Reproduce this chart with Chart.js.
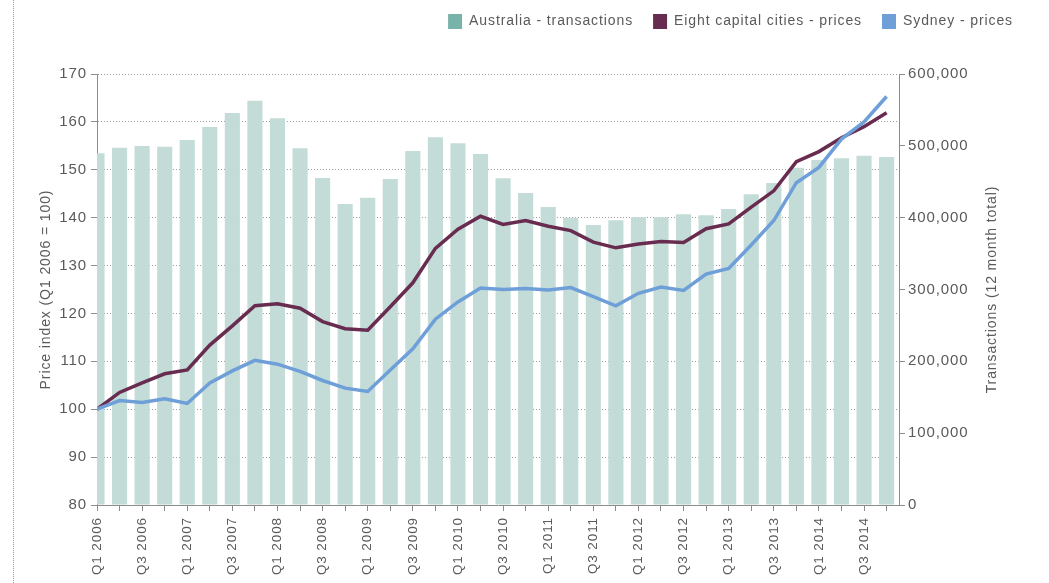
<!DOCTYPE html>
<html>
<head>
<meta charset="utf-8">
<script src="https://cdn.jsdelivr.net/npm/chart.js@4/dist/chart.umd.min.js"></script>
<style>
  html, body { margin: 0; padding: 0; background: #fff; }
  #wrap { position: relative; width: 1049px; height: 583px; }
  #edge { position: absolute; left: 13px; top: 0; bottom: 0; border-left: 1px dotted #9a9a9a; }
  canvas { position: absolute; left: 0; top: 0; }
</style>
</head>
<body>
<div id="wrap">
  <div id="edge"></div>
  <canvas id="chart" width="1049" height="583"></canvas>
</div>
<script>
  // Quarterly categories
  const quarters = [
    'Q1 2006', 'Q2 2006', 'Q3 2006', 'Q4 2006',
    'Q1 2007', 'Q2 2007', 'Q3 2007', 'Q4 2007',
    'Q1 2008', 'Q2 2008', 'Q3 2008', 'Q4 2008',
    'Q1 2009', 'Q2 2009', 'Q3 2009', 'Q4 2009',
    'Q1 2010', 'Q2 2010', 'Q3 2010', 'Q4 2010',
    'Q1 2011', 'Q2 2011', 'Q3 2011', 'Q4 2011',
    'Q1 2012', 'Q2 2012', 'Q3 2012', 'Q4 2012',
    'Q1 2013', 'Q2 2013', 'Q3 2013', 'Q4 2013',
    'Q1 2014', 'Q2 2014', 'Q3 2014', 'Q4 2014'
  ];

  // Australia - transactions (12 month total), right axis
  const transactions = [
    489600, 497400, 499800, 498800, 508100, 526200, 545700, 562900,
    538300, 496500, 455200, 419000, 427800, 453800, 492800, 511900,
    503500, 488600, 454800, 434300, 414800, 400000, 389800, 396300,
    400500, 400500, 404700, 403300, 412100, 432500, 448300, 469600,
    480300, 482600, 486300, 484500
  ];

  // Price index (Q1 2006 = 100), left axis
  const capitalPrices = [
    100, 103.5, 105.5, 107.4, 108.2, 113.4, 117.4, 121.6,
    122.0, 121.1, 118.3, 116.8, 116.5, 121.4, 126.4, 133.6,
    137.6, 140.3, 138.6, 139.4, 138.2, 137.3, 134.9, 133.7,
    134.5, 135.0, 134.8, 137.7, 138.7, 142.2, 145.6, 151.7,
    153.8, 156.7, 159.0, 161.9
  ];

  const sydneyPrices = [
    100, 101.8, 101.4, 102.2, 101.2, 105.5, 108.0, 110.2,
    109.4, 107.9, 106.0, 104.4, 103.7, 108.2, 112.6, 118.8,
    122.4, 125.3, 125.0, 125.2, 124.9, 125.4, 123.5, 121.6,
    124.2, 125.5, 124.8, 128.2, 129.4, 134.3, 139.4, 147.3,
    150.5, 156.4, 160.0, 165.3
  ];

  const priceTicks = { min: 80, max: 170, step: 10 };
  const volumeTicks = { min: 0, max: 600000, step: 100000 };

  const FONT = '"Liberation Sans", Arial, sans-serif';
  const TEXT = '#5a5a5a';
  const AXIS = '#8c8c8c';
  const legendColors = ['#78b3aa', '#672c4f', '#6f9fd8'];

  const asPoints = arr => arr.map((v, i) => ({ x: i, y: v }));

  // canvas letter spacing to mimic the tracked typeface
  const tracking = {
    id: 'tracking',
    beforeLayout(chart) { chart.ctx.letterSpacing = '0.9px'; },
    beforeDraw(chart) { chart.ctx.letterSpacing = '0.9px'; }
  };

  // right-hand axis title reads bottom to top in the original
  const rightTitle = {
    id: 'rightTitle',
    afterDraw(chart) {
      const { ctx, chartArea } = chart;
      ctx.save();
      ctx.letterSpacing = '0.9px';
      ctx.font = `14px ${FONT}`;
      ctx.fillStyle = TEXT;
      ctx.textAlign = 'center';
      ctx.textBaseline = 'middle';
      ctx.translate(992, (chartArea.top + chartArea.bottom) / 2);
      ctx.rotate(-Math.PI / 2);
      ctx.fillText('Transactions (12 month total)', 0, 0);
      ctx.restore();
    }
  };

  const ctx = document.getElementById('chart').getContext('2d');
  new Chart(ctx, {
    type: 'bar',
    data: {
      datasets: [
        {
          type: 'bar',
          label: 'Australia - transactions',
          data: asPoints(transactions),
          yAxisID: 'y1',
          backgroundColor: '#c3dcd7',
          categoryPercentage: 1,
          barPercentage: 0.67,
          order: 10
        },
        {
          type: 'line',
          label: 'Eight capital cities - prices',
          data: asPoints(capitalPrices),
          yAxisID: 'y',
          borderColor: '#672c4f',
          backgroundColor: '#672c4f',
          borderWidth: 3.5,
          pointRadius: 0,
          tension: 0,
          order: 2
        },
        {
          type: 'line',
          label: 'Sydney - prices',
          data: asPoints(sydneyPrices),
          yAxisID: 'y',
          borderColor: '#6f9fd8',
          backgroundColor: '#6f9fd8',
          borderWidth: 3.5,
          pointRadius: 0,
          tension: 0,
          order: 1
        }
      ]
    },
    options: {
      responsive: false,
      animation: false,
      layout: { padding: { top: -6, right: 16, bottom: 0, left: 0 } },
      plugins: {
        tooltip: { enabled: false },
        legend: {
          position: 'top',
          align: 'end',
          labels: {
            color: TEXT,
            font: { family: FONT, size: 14 },
            boxWidth: 14,
            boxHeight: 15,
            padding: 20,
            generateLabels(chart) {
              const items = Chart.defaults.plugins.legend.labels.generateLabels(chart);
              items.sort((a, b) => a.datasetIndex - b.datasetIndex);
              items.forEach(it => {
                it.fillStyle = legendColors[it.datasetIndex];
                it.strokeStyle = legendColors[it.datasetIndex];
                it.lineWidth = 0;
              });
              return items;
            }
          }
        }
      },
      scales: {
        x: {
          type: 'linear',
          position: 'bottom',
          min: 0,
          max: 35.55,
          offset: false,
          afterFit: s => { s.height = 78; },
          grid: { display: true, drawOnChartArea: false, drawTicks: true, tickLength: 6, tickColor: AXIS, offset: false },
          border: { color: AXIS, width: 1 },
          ticks: {
            stepSize: 1,
            maxTicksLimit: 100,
            includeBounds: false,
            autoSkip: false,
            maxRotation: 90,
            minRotation: 90,
            padding: 6,
            color: TEXT,
            font: { family: FONT, size: 13.5 },
            callback: v => (Number.isInteger(v) && v % 2 === 0 ? quarters[v] : '')
          }
        },
        xTop: {
          type: 'linear',
          position: 'top',
          display: true,
          afterFit: s => { s.height = 35; },
          grid: { display: false },
          border: { display: false },
          ticks: { display: false }
        },
        y: {
          position: 'left',
          min: priceTicks.min,
          max: priceTicks.max,
          afterFit: s => { s.width = 97; },
          grid: { color: '#9c9c9c', lineWidth: 1, tickLength: 6, tickColor: AXIS },
          border: { color: AXIS, width: 1, dash: [1, 2] },
          ticks: {
            stepSize: priceTicks.step,
            padding: 4,
            color: TEXT,
            font: { family: FONT, size: 15 }
          },
          title: {
            display: true,
            text: 'Price index (Q1 2006 = 100)',
            color: TEXT,
            font: { family: FONT, size: 14 },
            padding: { top: 38, bottom: 0 }
          }
        },
        y1: {
          position: 'right',
          min: volumeTicks.min,
          max: volumeTicks.max,
          afterFit: s => { s.width = 134; },
          grid: { drawOnChartArea: false, tickLength: 6, tickColor: AXIS },
          border: { color: AXIS, width: 1 },
          ticks: {
            stepSize: volumeTicks.step,
            padding: 3,
            color: TEXT,
            font: { family: FONT, size: 15 },
            callback: v => v.toLocaleString('en-US')
          }
        }
      }
    },
    plugins: [tracking, rightTitle]
  });
</script>
</body>
</html>
